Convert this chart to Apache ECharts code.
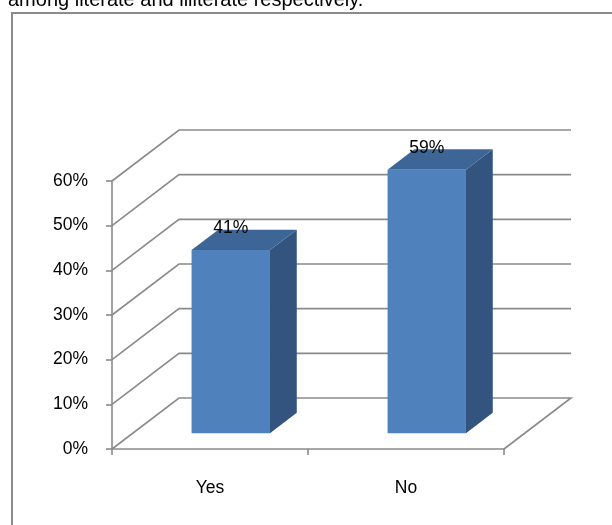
<!DOCTYPE html>
<html>
<head>
<meta charset="utf-8">
<script src="https://cdn.jsdelivr.net/npm/echarts@6/dist/echarts.min.js"></script>
<style>
  html, body { margin: 0; padding: 0; background: #fff; }
  #chart { width: 612px; height: 525px; }
</style>
</head>
<body>
<div id="chart"></div>
<script>
// Chart data
const categories = ['Yes', 'No'];
const shares = [41, 59];              // percent
const yTicks = [0, 10, 20, 30, 40, 50, 60];
const captionText = 'among literate and illiterate respectively.';

// 3D look: depth of the plot box and the bar's slot inside that depth
const DEPTH = [67, -51];
const BAR_FRONT = 0.31;
const BAR_BACK = 0.71;
const BAR_WIDTH_RATIO = 0.40;

const GRID_COLOR = '#8a8a8a';
const FONT = '"Liberation Sans", Arial, sans-serif';
const LABEL_SIZE = 17.5;

const chart = echarts.init(document.getElementById('chart'), null, { renderer: 'canvas' });

function wallItem(params, api) {
  const cs = params.coordSys;
  const v = api.value(1);
  const y = api.coord([0, v])[1];
  const left = cs.x, right = cs.x + cs.width;
  const pts = [
    [left, y],
    [left + DEPTH[0], y + DEPTH[1]],
    [right + DEPTH[0], y + DEPTH[1]]
  ];
  if (v === yTicks[0]) pts.push([right, y]);
  return {
    type: 'polyline',
    shape: { points: pts },
    style: { stroke: GRID_COLOR, lineWidth: 1.6, fill: null }
  };
}

function barItem(params, api) {
  const idx = api.value(0);
  const v = api.value(1);
  const base = api.coord([idx, 0]);
  const top = api.coord([idx, v]);
  const w = api.size([1, 0])[0] * BAR_WIDTH_RATIO;
  const fx = DEPTH[0] * BAR_FRONT, fy = DEPTH[1] * BAR_FRONT;
  const bx = DEPTH[0] * BAR_BACK, by = DEPTH[1] * BAR_BACK;
  const x0 = base[0] - w / 2 + fx, x1 = base[0] + w / 2 + fx;
  const yb = base[1] + fy, yt = top[1] + fy;
  const dx = bx - fx, dy = by - fy;
  return {
    type: 'group',
    children: [
      { type: 'polygon', shape: { points: [[x1, yb], [x1 + dx, yb + dy], [x1 + dx, yt + dy], [x1, yt]] },
        style: { fill: '#32547f' } },
      { type: 'polygon', shape: { points: [[x0, yt], [x1, yt], [x1 + dx, yt + dy], [x0 + dx, yt + dy]] },
        style: { fill: '#3d6697' } },
      { type: 'rect', shape: { x: x0, y: yt, width: x1 - x0, height: yb - yt },
        style: { fill: '#4f81bd' } },
      { type: 'text', z2: 10,
        style: { x: (x0 + x1) / 2, y: yt + dy - 1, text: v + '%', font: LABEL_SIZE + 'px ' + FONT,
                 fill: '#000', align: 'center', verticalAlign: 'middle' } }
    ]
  };
}

chart.setOption({
  animation: false,
  backgroundColor: '#fff',
  graphic: [
    { type: 'rect', z: -10, shape: { x: 12, y: 13, width: 640, height: 640 },
      style: { fill: null, stroke: '#8c8c8c', lineWidth: 2 } },
    { type: 'text', left: 8, top: -10,
      style: { text: captionText, font: '20px ' + FONT, fill: '#000' } }
  ],
  grid: { left: 112, right: 108, top: 181, bottom: 76 },
  xAxis: {
    type: 'category',
    data: categories,
    boundaryGap: true,
    axisLine: { lineStyle: { color: GRID_COLOR, width: 1.6 } },
    axisTick: { show: true, length: 6, lineStyle: { color: GRID_COLOR, width: 1.6 } },
    axisLabel: { margin: 30, color: '#000', fontSize: LABEL_SIZE, fontFamily: FONT },
    splitLine: { show: false }
  },
  yAxis: {
    type: 'value',
    min: 0, max: 60, interval: 10,
    axisLine: { show: true, lineStyle: { color: GRID_COLOR, width: 1.6 } },
    axisTick: { show: true, length: 6, lineStyle: { color: GRID_COLOR, width: 1.6 } },
    axisLabel: { margin: 24, color: '#000', fontSize: LABEL_SIZE, fontFamily: FONT,
                 formatter: '{value}%', padding: [3, 0, 0, 0] },
    splitLine: { show: false }
  },
  series: [
    {
      type: 'custom', name: 'walls', z: 1, silent: true,
      renderItem: wallItem,
      data: yTicks.map(v => [0, v])
    },
    {
      type: 'custom', name: 'share', z: 3,
      renderItem: barItem,
      data: shares.map((v, i) => [i, v])
    }
  ]
});
</script>
</body>
</html>
